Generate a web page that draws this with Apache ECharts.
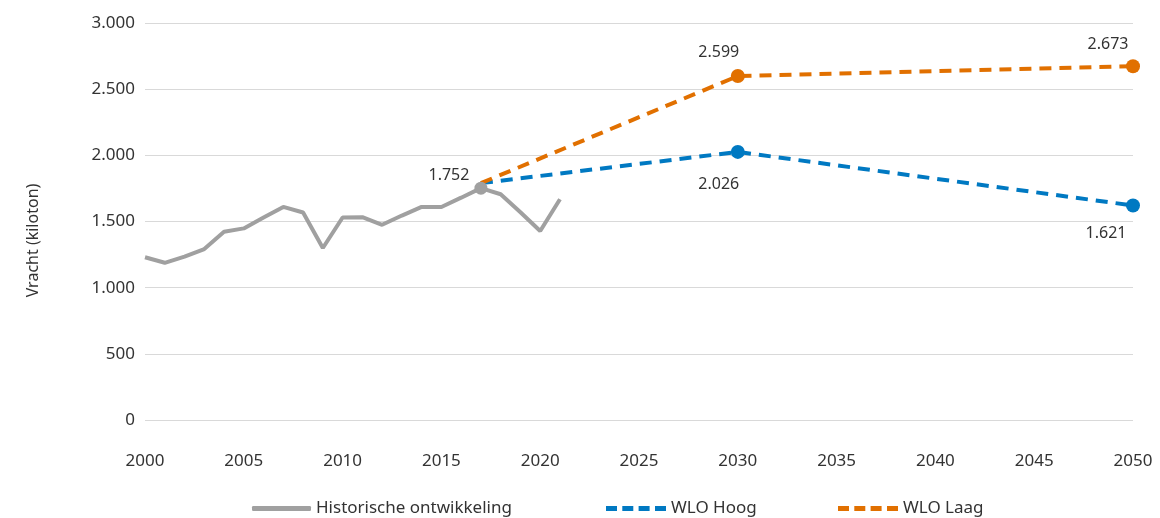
<!DOCTYPE html>
<html>
<head>
<meta charset="utf-8">
<script src="https://cdn.jsdelivr.net/npm/echarts@6/dist/echarts.min.js"></script>
<style>html,body{margin:0;padding:0;background:#fff}#c{width:1160px;height:518px}</style>
</head>
<body>
<div id="c"></div>
<script>
// Data
var histYears = [2000,2001,2002,2003,2004,2005,2006,2007,2008,2009,2010,2011,2012,2013,2014,2015,2016,2017,2018,2019,2020,2021];
var histValues = [1230,1188,1235,1292,1422,1448,1530,1610,1568,1300,1530,1533,1475,1545,1610,1610,1680,1752,1706,1570,1428,1668];
var projYears = [2017,2030,2050];
var hoogValues = [1790,2026,1621];
var laagValues = [1790,2599,2673];
var seriesNames = ['Historische ontwikkeling','WLO Hoog','WLO Laag'];
var yTicks = {min:0, max:3000, interval:500};
var xTicks = {min:2000, max:2050, interval:5};

function nl(v){ return String(Math.round(v)).replace(/\B(?=(\d{3})+(?!\d))/g,'.'); }

var FONT = 'Noto Sans';
var TXT = '#333333';
var COLORS = ['#a0a0a0','#0079c2','#e17000'];

function labelCfg(pos, off){
  return {show:true, position:pos, offset:off, distance:5, fontFamily:FONT, fontSize:16, color:TXT,
    formatter:function(p){ return nl(p.value[1]); }};
}

var histData = histYears.map(function(y,i){
  var d = {value:[y, histValues[i]]};
  if (y === 2017) { d.symbol='circle'; d.symbolSize=13; d.label=labelCfg('left',[0,-13]); }
  return d;
});
var hoogLabels = [null, ['bottom',[-19,13]], ['bottom',[-27,8]]];
var laagLabels = [null, ['top',[-19,-4]], ['top',[-25,-2]]];
function projData(vals, labs){
  return projYears.map(function(y,i){
    var d = {value:[y, vals[i]]};
    if (labs[i]) { d.symbol='circle'; d.symbolSize=14; d.label=labelCfg(labs[i][0], labs[i][1]); }
    return d;
  });
}

var dashIcon = 'path://M0,0h11v5h-11z M16.3,0h11v5h-11z M32.6,0h11v5h-11z M49,0h11v5h-11z';
function legendCfg(idx, left, icon, w){
  return {left:left, top:500, itemWidth:w, itemHeight:5, itemGap:5, symbolKeepAspect:false, padding:[0,5,0,5],
    textStyle:{fontFamily:FONT, fontSize:17, color:TXT},
    data:[{name:seriesNames[idx], icon:icon, itemStyle:{color:COLORS[idx]}}]};
}

var chart = echarts.init(document.getElementById('c'), null, {renderer:'canvas'});
chart.setOption({
  animation:false,
  grid:{left:145, right:27, top:23, bottom:98, containLabel:false},
  xAxis:{type:'value', min:xTicks.min, max:xTicks.max, interval:xTicks.interval,
    axisLine:{show:false}, axisTick:{show:false}, splitLine:{show:false},
    axisLabel:{margin:33, fontFamily:FONT, fontSize:17, color:TXT, formatter:function(v){return String(v);}}},
  yAxis:{type:'value', min:yTicks.min, max:yTicks.max, interval:yTicks.interval,
    name:'Vracht (kiloton)', nameLocation:'middle', nameGap:104, nameRotate:90,
    nameTextStyle:{fontFamily:FONT, fontSize:16, color:TXT, padding:[0,0,0,-38]},
    axisLine:{show:false}, axisTick:{show:false},
    splitLine:{lineStyle:{color:'#d9d9d9', width:1}},
    axisLabel:{margin:10, fontFamily:FONT, fontSize:17, color:TXT, formatter:function(v){return nl(v);}}},
  legend:[
    legendCfg(0, 247, 'roundRect', 59),
    legendCfg(1, 601, dashIcon, 60),
    legendCfg(2, 833, dashIcon, 60)
  ],
  series:[
    {name:seriesNames[0], type:'line', symbol:'none', z:3, data:histData,
      lineStyle:{color:COLORS[0], width:4}, itemStyle:{color:COLORS[0]}},
    {name:seriesNames[1], type:'line', symbol:'none', z:2, data:projData(hoogValues, hoogLabels),
      lineStyle:{color:COLORS[1], width:4, type:[12,8]}, itemStyle:{color:COLORS[1]}},
    {name:seriesNames[2], type:'line', symbol:'none', z:2, data:projData(laagValues, laagLabels),
      lineStyle:{color:COLORS[2], width:4, type:[12,8]}, itemStyle:{color:COLORS[2]}}
  ]
});
</script>
</body>
</html>
